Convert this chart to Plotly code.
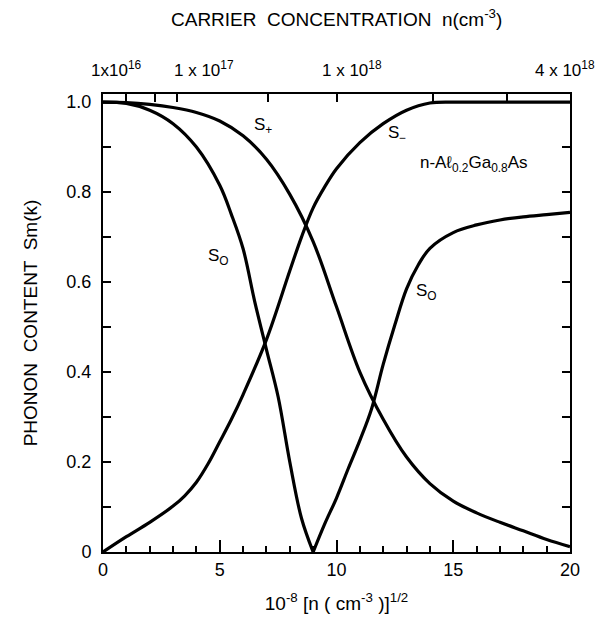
import numpy as np
import plotly.graph_objects as go

# ---- data ----
x_splus = [0, 1, 2, 3, 4, 5, 6, 7, 8, 9, 10, 11, 12, 13, 14, 15, 16, 17, 18, 19, 20]
y_splus = [1.0, 0.999, 0.995, 0.988, 0.977, 0.958, 0.925, 0.873, 0.795, 0.69, 0.545, 0.40, 0.295, 0.211, 0.152, 0.113, 0.087, 0.066, 0.047, 0.028, 0.012]

x_sminus = [0, 1, 2, 3, 3.5, 4, 4.5, 5, 5.5, 6, 7, 8, 8.5, 9, 9.5, 10, 11, 12, 13, 14, 15, 16, 17, 18, 19, 20]
y_sminus = [0, 0.034, 0.066, 0.102, 0.125, 0.155, 0.196, 0.245, 0.295, 0.35, 0.472, 0.625, 0.70, 0.765, 0.812, 0.852, 0.91, 0.952, 0.982, 0.998, 1.0, 1.0, 1.0, 1.0, 1.0, 1.0]

x_s0_low = [0, 1, 2, 3, 4, 5, 5.5, 6, 6.5, 7, 7.5, 8, 8.5, 9]
y_s0_low = [1.0, 0.997, 0.982, 0.952, 0.9, 0.815, 0.75, 0.674, 0.556, 0.45, 0.345, 0.2, 0.075, 0.0]

x_s0_high = [9, 9.5, 10, 10.5, 11, 11.5, 12, 12.5, 13, 13.5, 14, 15, 16, 17, 18, 19, 20]
y_s0_high = [0.0, 0.063, 0.12, 0.185, 0.248, 0.318, 0.417, 0.505, 0.585, 0.638, 0.675, 0.71, 0.727, 0.738, 0.745, 0.75, 0.755]

x_tickvals = [0, 5, 10, 15, 20]
x_ticktext = ["0", "5", "10", "15", "20"]
y_tickvals = [0, 0.2, 0.4, 0.6, 0.8, 1.0]
y_ticktext = ["0", "0.2", "0.4", "0.6", "0.8", "1.0"]

top_tick_n = [1e16, 5e16, 1e17, 5e17, 1e18, 2e18, 3e18, 4e18]
top_label_n = [1e16, 1e17, 1e18, 4e18]
top_label_text = ["1x10<sup>16</sup>", "1 x 10<sup>17</sup>", "1 x 10<sup>18</sup>", "4 x 10<sup>18</sup>"]
top_label_shift = [-10, 27, 15, -5]

curve_labels = [
    (6.85, 0.947, "S<sub>+</sub>"),
    (12.6, 0.928, "S<sub>\u2212</sub>"),
    (15.9, 0.862, "n-A\u2113<sub>0.2</sub>Ga<sub>0.8</sub>As"),
    (4.93, 0.656, "S<sub>O</sub>"),
    (13.86, 0.578, "S<sub>O</sub>"),
]

FONT = "Liberation Sans"
line = dict(color="black", width=3.2, shape="spline", smoothing=1.0)

fig = go.Figure()
for xs, ys in [(x_splus, y_splus), (x_sminus, y_sminus), (x_s0_low, y_s0_low), (x_s0_high, y_s0_high)]:
    fig.add_trace(go.Scatter(x=xs, y=ys, mode="lines", line=line, showlegend=False, hoverinfo="skip"))

# invisible trace to activate top/right axes
fig.add_trace(go.Scatter(x=[0], y=[0], xaxis="x2", yaxis="y2", mode="markers",
                         marker=dict(opacity=0), showlegend=False, hoverinfo="skip"))

top_tickvals = [np.sqrt(n) * 1e-8 for n in top_tick_n]

for (x, y, t) in curve_labels:
    fig.add_annotation(x=x, y=y, text=t, showarrow=False, font=dict(family=FONT, size=17, color="black"))

for n, t, s in zip(top_label_n, top_label_text, top_label_shift):
    fig.add_annotation(x=np.sqrt(n) * 1e-8, y=1, xref="x", yref="paper", yanchor="bottom",
                       yshift=12, xshift=s, text=t, showarrow=False,
                       font=dict(family=FONT, size=17, color="black"))

fig.add_annotation(x=0.5, y=1, xref="paper", yref="paper", yanchor="bottom", yshift=62,
                   text="CARRIER  CONCENTRATION  n(cm<sup>-3</sup>)", showarrow=False,
                   font=dict(family=FONT, size=19, color="black"))

axis_common = dict(showgrid=False, zeroline=False, showline=True, linecolor="black", linewidth=2,
                   ticks="inside", tickcolor="black", tickwidth=1.5, automargin=False)

YR = [0, 1.018]

fig.update_layout(
    width=616, height=618,
    margin=dict(l=103, r=46, t=94, b=66),
    plot_bgcolor="white", paper_bgcolor="white",
    font=dict(family=FONT, size=18, color="black"),
    xaxis=dict(range=[0, 20], tickvals=x_tickvals, ticktext=x_ticktext, ticklen=12,
               minor=dict(dtick=1, ticklen=6, ticks="inside", tickcolor="black", tickwidth=1.5),
               title=dict(text="10<sup>-8</sup> [n ( cm<sup>-3</sup> )]<sup>1/2</sup>", standoff=18,
                          font=dict(size=19)),
               **axis_common),
    yaxis=dict(range=YR, tickvals=y_tickvals, ticktext=y_ticktext, ticklen=8,
               minor=dict(tickvals=[0.1, 0.3, 0.5, 0.7, 0.9], ticklen=8, ticks="inside", tickcolor="black", tickwidth=1.5),
               ticklabelstandoff=6,
               title=dict(text="PHONON  CONTENT  Sm(k)", standoff=24, font=dict(size=19)),
               **axis_common),
    xaxis2=dict(range=[0, 20], overlaying="x", side="top", anchor="y", tickvals=top_tickvals,
                showticklabels=False, ticklen=8, **axis_common),
    yaxis2=dict(range=YR, overlaying="y", side="right", anchor="x",
                tickvals=[round(0.1 * i, 1) for i in range(11)], showticklabels=False, ticklen=8,
                **axis_common),
)

fig.write_html("out.html")
